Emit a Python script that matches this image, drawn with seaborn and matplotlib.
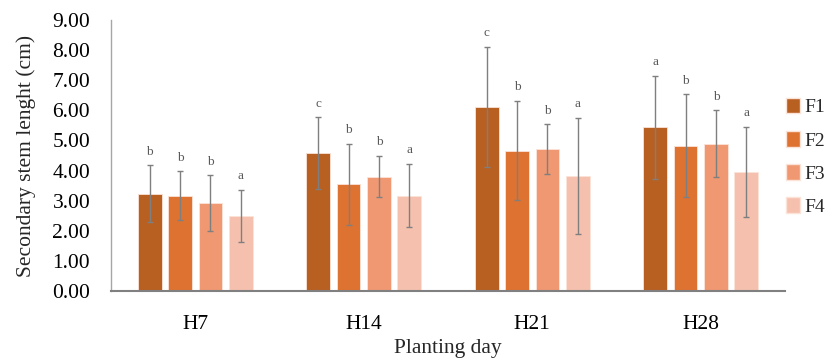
import pandas as pd
import numpy as np
import matplotlib
matplotlib.use("Agg")
import matplotlib.pyplot as plt
import seaborn as sns
from matplotlib.patches import Patch
from matplotlib.ticker import FormatStrFormatter

days = ['H7', 'H14', 'H21', 'H28']
treatments = ['F1', 'F2', 'F3', 'F4']

# mean secondary stem length per day, one list per treatment
f1_mean = [3.23, 4.58, 6.11, 5.43]
f2_mean = [3.17, 3.54, 4.66, 4.83]
f3_mean = [2.92, 3.80, 4.71, 4.89]
f4_mean = [2.50, 3.17, 3.82, 3.95]

f1_sd = [0.95, 1.19, 2.00, 1.71]
f2_sd = [0.81, 1.35, 1.65, 1.70]
f3_sd = [0.92, 0.69, 0.83, 1.11]
f4_sd = [0.87, 1.06, 1.94, 1.50]

f1_letter = ['b', 'c', 'c', 'a']
f2_letter = ['b', 'b', 'b', 'b']
f3_letter = ['b', 'b', 'b', 'b']
f4_letter = ['a', 'a', 'a', 'a']

colors = ['#B85F22', '#DE7230', '#EF9872', '#F5C0AE']

means = [f1_mean, f2_mean, f3_mean, f4_mean]
sds = [f1_sd, f2_sd, f3_sd, f4_sd]
letters = [f1_letter, f2_letter, f3_letter, f4_letter]

rows = []
for t, m, s, l in zip(treatments, means, sds, letters):
    for d, mv, sv, lv in zip(days, m, s, l):
        rows.append({'day': d, 'treatment': t, 'length': mv, 'sd': sv, 'letter': lv})
df = pd.DataFrame(rows)

sns.set_style('white')
plt.rcParams['font.family'] = ['Liberation Serif', 'DejaVu Serif']

fig = plt.figure(figsize=(8.26, 3.58), dpi=100)
ax = fig.add_axes([0.1344, 0.1872, 0.816, 0.757])

sns.barplot(data=df, x='day', y='length', hue='treatment', order=days,
            hue_order=treatments, palette=colors, saturation=1, errorbar=None,
            width=0.72, gap=0.22, edgecolor='#fbe3d8', linewidth=0.6,
            legend=False, ax=ax)

# error bars and letters, placed from the drawn bars
for i, t in enumerate(treatments):
    container = ax.containers[i]
    sub = df[df.treatment == t].set_index('day').loc[days]
    for bar, (_, r) in zip(container, sub.iterrows()):
        xc = bar.get_x() + bar.get_width() / 2
        ax.errorbar(xc, r['length'], yerr=r['sd'], fmt='none', ecolor='#7f7f7f',
                    elinewidth=1.0, capsize=2.5, capthick=1.0)
        ax.text(xc, r['length'] + r['sd'] + 0.25, r['letter'], ha='center', va='bottom',
                fontsize=9.5, color='#595959')

ax.set_xlim(-0.5, 3.5)
ax.set_ylim(0, 9)
ax.set_yticks(np.arange(0, 9.01, 1))
ax.yaxis.set_major_formatter(FormatStrFormatter('%.2f'))
ax.tick_params(axis='both', labelsize=15.5, length=0, colors='#000000')
ax.tick_params(axis='x', pad=17)
ax.tick_params(axis='y', pad=15)
ax.set_xlabel('Planting day', fontsize=15.5, labelpad=4)
ax.set_ylabel('Secondary stem lenght (cm)', fontsize=15.5, labelpad=12)

for s in ['top', 'right']:
    ax.spines[s].set_visible(False)
ax.spines['left'].set_color('#a6a6a6')
ax.spines['left'].set_linewidth(1.0)
ax.spines['bottom'].set_color('#808080')
ax.spines['bottom'].set_linewidth(1.5)

handles = [Patch(facecolor=c, edgecolor='#fbe3d8', label=t) for c, t in zip(colors, treatments)]
ax.legend(handles=handles, loc='center left', bbox_to_anchor=(1.002, 0.495),
          frameon=False, fontsize=14, handlelength=0.7, handleheight=0.85,
          handletextpad=0.25, labelspacing=0.75, borderaxespad=0, borderpad=0)

fig.savefig('out.png', dpi=100)
